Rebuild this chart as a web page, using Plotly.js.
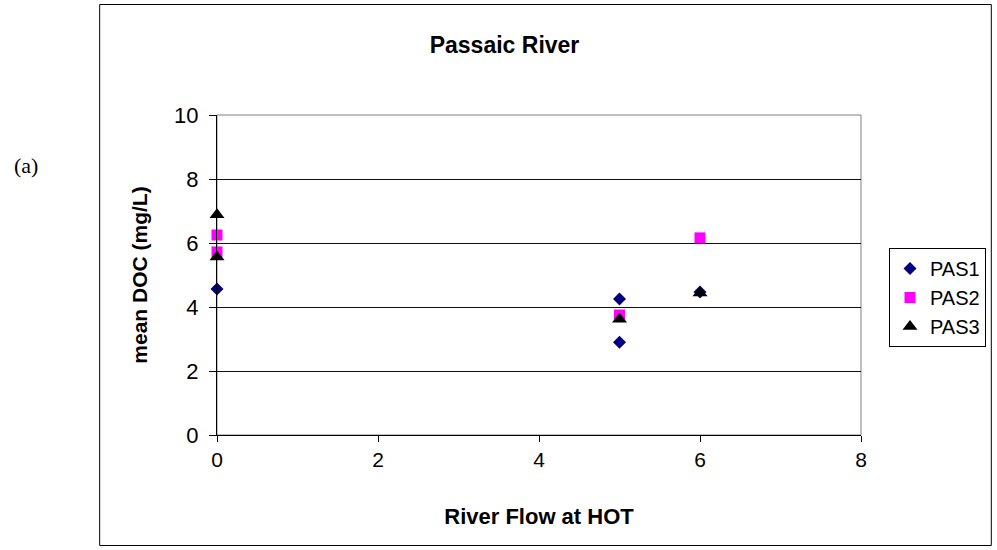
<!DOCTYPE html>
<html><head><meta charset="utf-8">
<script src="https://cdn.plot.ly/plotly-3.0.1.min.js"></script>
<style>body{margin:0;background:#fff}#c{width:997px;height:550px}</style>
</head><body><div id="c"></div>
<script>
const series = ["PAS1", "PAS2", "PAS3"];
const pas1X = [0, 5, 5, 6];
const pas1Y = [4.56, 4.25, 2.9, 4.47];
const pas2X = [0, 0, 5, 6];
const pas2Y = [6.25, 5.72, 3.75, 6.16];
const pas3X = [0, 0, 5, 6];
const pas3Y = [6.88, 5.56, 3.62, 4.44];
const xTicks = [0, 2, 4, 6, 8];
const yTicks = [0, 2, 4, 6, 8, 10];

const L = 217, R = 862, T = 115, B = 435;
const pw = R - L, ph = B - T;
const px = v => (v - L) / pw, py = v => (B - v) / ph;

const traces = [
  {x: pas1X, y: pas1Y, name: series[0], mode: 'markers', type: 'scatter', cliponaxis: false,
   marker: {symbol: 'diamond', color: '#000080', size: 10}},
  {x: pas2X, y: pas2Y, name: series[1], mode: 'markers', type: 'scatter', cliponaxis: false,
   marker: {symbol: 'square', color: '#FF00FF', size: 11}},
  {x: pas3X, y: pas3Y, name: series[2], mode: 'markers', type: 'scatter', cliponaxis: false,
   marker: {symbol: 'triangle-up', color: '#000000', size: 13}}
];
const font = {family: 'Liberation Sans, Arial, sans-serif', color: '#000'};
const layout = {
  width: 997, height: 550,
  margin: {l: L, r: 997 - R, t: T, b: 550 - B},
  paper_bgcolor: '#fff', plot_bgcolor: '#fff',
  font: Object.assign({size: 20}, font),
  showlegend: true,
  title: {text: '<b>Passaic River</b>', font: Object.assign({size: 23}, font),
          x: 504.5/997, xanchor: 'center', y: 1 - 45/550, yanchor: 'middle'},
  xaxis: {range: [0, 8], tickvals: xTicks, ticktext: xTicks.map(String),
          showgrid: false, zeroline: false, showline: true, linecolor: '#000', linewidth: 1,
          ticks: 'outside', ticklen: 6, tickcolor: '#000', mirror: false,
          tickfont: Object.assign({size: 21}, font),
          title: {text: '<b>River Flow at HOT</b>', font: Object.assign({size: 22}, font), standoff: 38}},
  yaxis: {range: [0, 10], tickvals: yTicks, ticktext: yTicks.map(String),
          showgrid: true, gridcolor: '#111', gridwidth: 1, zeroline: false,
          showline: true, linecolor: '#000', linewidth: 1,
          ticks: 'outside', ticklen: 7, tickcolor: '#000', ticklabelstandoff: 6,
          tickfont: Object.assign({size: 22}, font),
          title: {text: '<b>mean DOC (mg/L)</b>', font: Object.assign({size: 21}, font), standoff: 20}},
  legend: {x: px(889), y: py(248), xanchor: 'left', yanchor: 'top',
           bordercolor: '#000', borderwidth: 1, bgcolor: '#fff',
           font: Object.assign({size: 20}, font), tracegroupgap: 0, itemwidth: 30},
  shapes: [
    {type: 'rect', xref: 'paper', yref: 'paper', x0: 0, x1: 1, y0: 0, y1: 1,
     line: {color: '#808080', width: 1}, layer: 'below'},
    {type: 'rect', xref: 'paper', yref: 'paper', x0: px(99.5), x1: px(992.5), y0: py(545.5), y1: py(4.5),
     line: {color: '#000', width: 1}}
  ],
  annotations: [
    {text: '(a)', xref: 'paper', yref: 'paper', x: px(12), y: py(165), xanchor: 'left', yanchor: 'middle',
     showarrow: false, font: {family: 'Liberation Serif, Times New Roman, serif', size: 22, color: '#000'}}
  ]
};
Plotly.newPlot('c', traces, layout, {displayModeBar: false, staticPlot: true});
</script></body></html>
